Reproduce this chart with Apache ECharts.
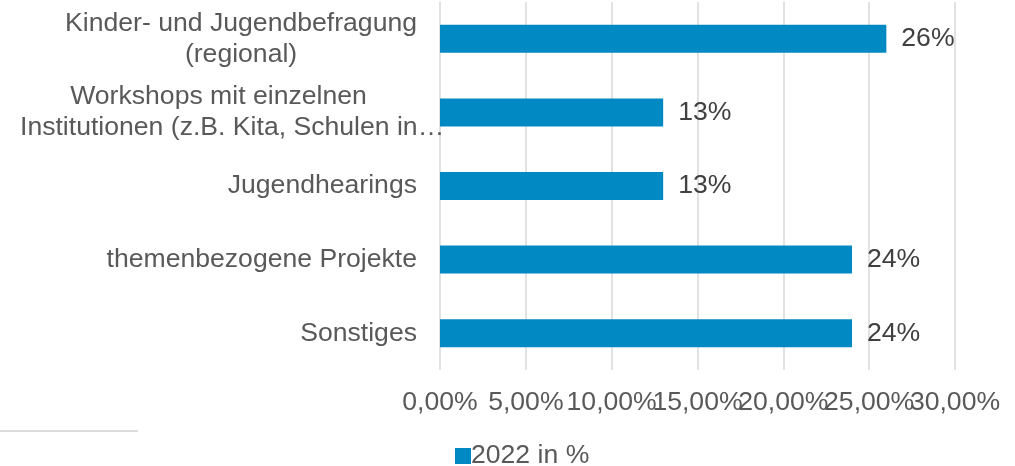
<!DOCTYPE html>
<html>
<head>
<meta charset="utf-8">
<script src="https://cdn.jsdelivr.net/npm/echarts@6/dist/echarts.min.js"></script>
<style>
html,body{margin:0;padding:0;background:#fff;}
#chart{width:1015px;height:466px;}
</style>
</head>
<body>
<div id="chart"></div>
<script>
const categories = [
  'Kinder- und Jugendbefragung\n(regional)',
  'Workshops mit einzelnen\nInstitutionen (z.B. Kita, Schulen in…',
  'Jugendhearings',
  'themenbezogene Projekte',
  'Sonstiges'
];
const values2022 = [26, 13, 13, 24, 24];
const seriesName = '2022 in %';
const xTicks = { min: 0, max: 30, interval: 5 };
// tick values drawn on the second (overlay) axis so that overlapping labels are all shown
const overlayTicks = [25];

const FONT = '"Liberation Sans", Arial, sans-serif';
const FS = 26.6;
const AXIS_COLOR = '#595959';

const chart = echarts.init(document.getElementById('chart'), null, { renderer: 'canvas' });

function catLabel(value, idx) {
  const lines = value.split('\n');
  if (lines.length === 1) return value;
  if (idx === 1) {
    return '{c|' + lines[0] + '}\n{l|' + lines[1] + '}';
  }
  return lines.map(l => '{c|' + l + '}').join('\n');
}

const fmtTick = v => v.toFixed(2).replace('.', ',') + '%';

function xAxisDef(onOverlay) {
  return {
    type: 'value',
    position: 'bottom',
    min: xTicks.min, max: xTicks.max, interval: xTicks.interval,
    axisLine: { show: false },
    axisTick: { show: false },
    splitLine: { show: !onOverlay, lineStyle: { color: '#d9d9d9', width: 1.5 } },
    axisLabel: {
      color: AXIS_COLOR, fontFamily: FONT, fontSize: FS, margin: 18,
      lineHeight: 30,
      hideOverlap: false,
      showMinLabel: true, showMaxLabel: true,
      formatter: v => {
        const isOverlay = overlayTicks.indexOf(v) >= 0;
        return (isOverlay === onOverlay) ? fmtTick(v) : '';
      }
    }
  };
}

chart.setOption({
  animation: false,
  backgroundColor: '#ffffff',
  textStyle: { fontFamily: FONT },
  grid: { left: 440, right: 60, top: 2, bottom: 96, containLabel: false },
  xAxis: [xAxisDef(false), xAxisDef(true)],
  yAxis: {
    type: 'category',
    inverse: true,
    data: categories,
    axisLine: { show: false },
    axisTick: { show: false },
    axisLabel: {
      color: AXIS_COLOR, fontFamily: FONT, fontSize: FS, margin: 23,
      lineHeight: 31,
      interval: 0,
      formatter: catLabel,
      rich: {
        c: { color: AXIS_COLOR, fontFamily: FONT, fontSize: FS, lineHeight: 31, align: 'center' },
        l: { color: AXIS_COLOR, fontFamily: FONT, fontSize: FS, lineHeight: 31, align: 'left', width: 397 }
      }
    }
  },
  legend: {
    show: true,
    data: [seriesName],
    left: 450,
    top: 437,
    itemWidth: 16,
    itemHeight: 16,
    itemGap: 10,
    icon: 'rect',
    textStyle: { color: AXIS_COLOR, fontFamily: FONT, fontSize: FS, lineHeight: 28, padding: [0, 0, 0, -5] }
  },
  graphic: [
    { type: 'rect', left: 0, top: 430, shape: { width: 138, height: 2 }, style: { fill: '#dcdcdc' } }
  ],
  series: [{
    name: seriesName,
    type: 'bar',
    xAxisIndex: 0,
    data: values2022,
    barWidth: 28,
    itemStyle: { color: '#0089c2' },
    label: {
      show: true,
      position: 'right',
      distance: 15,
      color: '#404040',
      fontFamily: FONT,
      fontSize: FS,
      formatter: p => p.value + '%'
    }
  }]
});
</script>
</body>
</html>
